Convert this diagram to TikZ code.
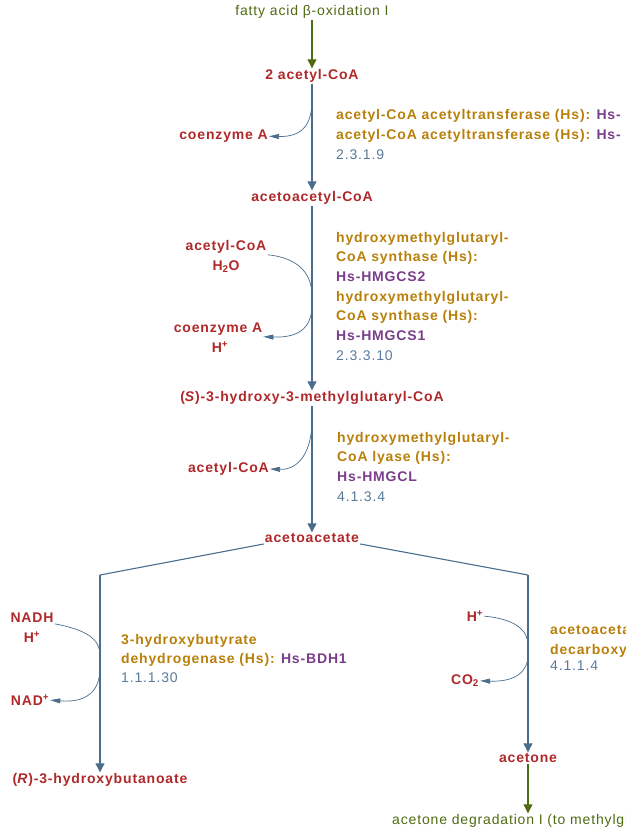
\documentclass[tikz,border=0pt]{standalone}
\usepackage{fontspec}
\setmainfont{Liberation Sans}
\newfontfamily\wbold[LetterSpace=6]{Liberation Sans}
\newfontfamily\wreg[LetterSpace=6]{Liberation Sans}
\usetikzlibrary{arrows.meta}
\definecolor{cpdred}{HTML}{B0282A}
\definecolor{enzgold}{HTML}{B8800B}
\definecolor{genepur}{HTML}{7A3F8A}
\definecolor{ecblue}{HTML}{5B7A99}
\definecolor{lineblue}{HTML}{4A6D8C}
\definecolor{pathgreen}{HTML}{4E6B12}
\tikzset{
  cpd/.style={font=\wbold\bfseries\fontsize{14}{16}\selectfont, text=cpdred, inner sep=1pt, anchor=mid},
  enz/.style={font=\wbold\bfseries\fontsize{14}{16}\selectfont, text=enzgold, inner sep=0pt, anchor=mid west},
  ectext/.style={font=\wreg\fontsize{14}{16}\selectfont, text=ecblue, inner sep=0pt, anchor=mid west},
  pathtext/.style={font=\wreg\fontsize{14}{16}\selectfont, text=pathgreen, inner sep=1pt, anchor=mid},
  mainline/.style={draw=lineblue, line width=1.1pt, -{Triangle[width=9pt,length=9pt]}},
  greenline/.style={draw=pathgreen, line width=1.1pt, -{Triangle[width=9pt,length=9pt]}},
  sideline/.style={draw=lineblue, line width=0.7pt, -{Triangle[width=5pt,length=10pt]}},
  branch/.style={draw=lineblue, line width=1.1pt},
}
\newcommand{\gn}[1]{{\color{genepur}#1}}
\begin{document}
\begin{tikzpicture}[x=1pt,y=-1pt]
\useasboundingbox (0,0) rectangle (626,830);
\clip (0,0) rectangle (626,830);

% pathway links
\node[pathtext] (fao) at (312,13) {fatty acid β-oxidation I};
\node[pathtext, anchor=mid west] (acdeg) at (391,822) {acetone degradation I (to methylglyoxal)};

% compounds
\node[cpd] (acoa) at (312,77) {2 acetyl-CoA};
\node[cpd] (aacoa) at (312,199) {acetoacetyl-CoA};
\node[cpd] (hmg) at (312,399) {(\textit{S})-3-hydroxy-3-methylglutaryl-CoA};
\node[cpd] (aa) at (312,540) {acetoacetate};
\node[cpd] (hb) at (100,781) {(\textit{R})-3-hydroxybutanoate};
\node[cpd] (acetone) at (528,760) {acetone};

% side compounds
\node[cpd, anchor=mid east] (coa1) at (269,137) {coenzyme A};
\node[cpd] (acoa2) at (226,248) {acetyl-CoA};
\node[cpd] (h2o) at (226,268) {H\textsubscript{2}O};
\node[cpd] (coa2) at (218,330) {coenzyme A};
\node[cpd] (hp1) at (220,350) {H\textsuperscript{+}};
\node[cpd, anchor=mid east] (acoa3) at (270,470) {acetyl-CoA};
\node[cpd] (nadh) at (32,620) {NADH};
\node[cpd] (hp2) at (32,640) {H\textsuperscript{+}};
\node[cpd] (nadp) at (30,703) {NAD\textsuperscript{+}};
\node[cpd] (hp3) at (475,619) {H\textsuperscript{+}};
\node[cpd] (co2) at (465,682) {CO\textsubscript{2}};

% enzymes
\node[enz] (e1a) at (336,117) {acetyl-CoA acetyltransferase (Hs): \gn{Hs-}};
\node[enz] (e1b) at (336,137) {acetyl-CoA acetyltransferase (Hs): \gn{Hs-}};
\node[ectext] (ec1) at (336,157) {2.3.1.9};

\node[enz] (e2a) at (336,240) {hydroxymethylglutaryl-};
\node[enz] (e2b) at (336,259) {CoA synthase (Hs):};
\node[enz] (e2c) at (336,279) {\gn{Hs-HMGCS2}};
\node[enz] (e2d) at (336,299) {hydroxymethylglutaryl-};
\node[enz] (e2e) at (336,318) {CoA synthase (Hs):};
\node[enz] (e2f) at (336,338) {\gn{Hs-HMGCS1}};
\node[ectext] (ec2) at (336,358) {2.3.3.10};

\node[enz] (e3a) at (337,440) {hydroxymethylglutaryl-};
\node[enz] (e3b) at (337,459) {CoA lyase (Hs):};
\node[enz] (e3c) at (337,479) {\gn{Hs-HMGCL}};
\node[ectext] (ec3) at (337,499) {4.1.3.4};

\node[enz] (e4a) at (121,642) {3-hydroxybutyrate};
\node[enz] (e4b) at (121,661) {dehydrogenase (Hs): \gn{Hs-BDH1}};
\node[ectext] (ec4) at (121,680) {1.1.1.30};

\node[enz] (e5a) at (550,632) {acetoacetate};
\node[enz] (e5b) at (550,652) {decarboxylase};
\node[ectext] (ec5) at (550,668) {4.1.1.4};

% coordinates on main lines
\coordinate (bl) at (100,575);
\coordinate (br) at (528,575);
\coordinate (t1) at (312,100);
\coordinate (t2a) at (312,296);
\coordinate (t2b) at (312,305);
\coordinate (t3) at (312,420);
\coordinate (t4a) at (100,655);
\coordinate (t4b) at (100,668);
\coordinate (t5a) at (528,645);
\coordinate (t5b) at (528,655);

% green pathway links
\draw[greenline] (fao) -- (acoa);
\draw[greenline] (acetone) -- (acdeg.north -| acetone);

% main reactions
\draw[mainline] (acoa) -- (aacoa);
\draw[mainline] (aacoa) -- (hmg);
\draw[mainline] (hmg) -- (aa);
\draw[branch] (aa.south west) -- (bl);
\draw[mainline] (bl) -- (hb);
\draw[branch] (aa.south east) -- (br);
\draw[mainline] (br) -- (acetone);

% side reactions
\draw[sideline] (t1) .. controls (312,125) and (302,137) .. (coa1.east);
\draw[sideline] (acoa2.south east) .. controls (300,258) and (312,275) .. (t2a) -- (t2b) .. controls (312,325) and (302,338) .. (coa2.south east);
\draw[sideline] (t3) .. controls (312,450) and (300,470) .. (acoa3.east);
\draw[sideline] (nadh.south east) .. controls (88,630) and (100,640) .. (t4a) -- (t4b) .. controls (100,690) and (88,703) .. (nadp.east);
\draw[sideline] (hp3.east) .. controls (515,619) and (528,630) .. (t5a) -- (t5b) .. controls (528,672) and (515,682) .. (co2.east);
\end{tikzpicture}
\end{document}
